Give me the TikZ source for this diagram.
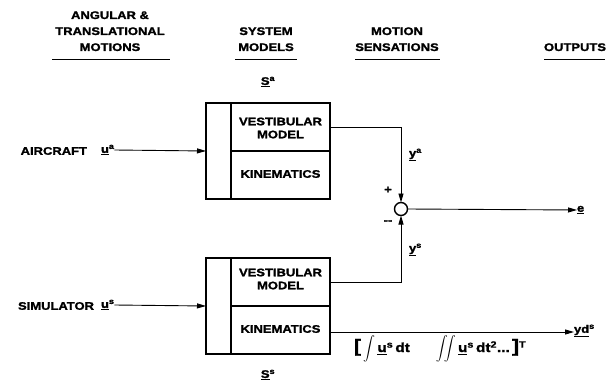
\documentclass[tikz,border=0pt]{standalone}
\usepackage{amsmath}
\usepackage{fontspec}
\setmainfont{Liberation Sans}
\newfontfamily\lett[FakeStretch=1.18,FakeBold=1.6]{Liberation Sans}
\usetikzlibrary{arrows.meta}
\newcommand{\ul}[1]{\underline{#1}}
\begin{document}
\begin{tikzpicture}[x=1pt,y=-1pt,
  every node/.style={inner sep=0pt,outer sep=0pt,font=\lett\bfseries\fontsize{11}{13}\selectfont},
  hdr/.style={align=center,font=\lett\bfseries\fontsize{11}{16}\selectfont},
  hline/.style={line width=1pt},
  blk/.style={draw,line width=1.8pt,minimum width=124pt,minimum height=96pt},
  inner/.style={line width=1.3pt},
  conn/.style={line width=0.9pt},
  arr/.style={conn,-{Triangle[length=9pt,width=5pt]}},
  sumnode/.style={draw,circle,line width=1.4pt,minimum size=13pt}]
\useasboundingbox (0,0) rectangle (609,387);

% headers
\node[hdr,anchor=base] (h1) at (110,51) {ANGULAR \&\\TRANSLATIONAL\\MOTIONS};
\node[hdr,anchor=base] (h2) at (266,51) {SYSTEM\\MODELS};
\node[hdr,anchor=base] (h3) at (397,51) {MOTION\\SENSATIONS};
\node[hdr,anchor=base] (h4) at (575,51) {OUTPUTS};
\draw[hline] (52,60) -- (170,60);
\draw[hline] (235,60) -- (297,60);
\draw[hline] (355,60) -- (440,60);
\draw[hline] (544,60) -- (605,60);

% upper block
\node[blk] (ba) at (268,151) {};
\draw[inner] (231,103) -- (231,199);
\draw[inner] (231,151) -- (330,151);
\node[align=center] (vma) at (280.5,128) {VESTIBULAR\\MODEL};
\node (kia) at (280.5,174) {KINEMATICS};
\node (sa) at (268,82) {\ul{S}\textsuperscript{a}};

% lower block
\node[blk] (bs) at (268,306) {};
\draw[inner] (231,258) -- (231,354);
\draw[inner] (231,306) -- (330,306);
\node[align=center] (vms) at (280.5,279) {VESTIBULAR\\MODEL};
\node (kis) at (280.5,329) {KINEMATICS};
\node (ss) at (268,375) {\ul{S}\textsuperscript{s}};

% inputs
\node[anchor=east] (air) at (87,151) {AIRCRAFT};
\node[anchor=west] (ua) at (101,150) {\ul{u}\textsuperscript{a}};
\node[anchor=east] (sim) at (94,306) {SIMULATOR};
\node[anchor=west] (us) at (101,305) {\ul{u}\textsuperscript{s}};
\draw[arr] (ua.east) -- (ba.west);
\draw[arr] (us.east) -- (bs.west);

% summing junction
\node[sumnode] (sum) at (401,209) {};
\coordinate (va) at (330,127);
\coordinate (vs) at (330,282);
\draw[arr] (va) -| (sum.north);
\draw[arr] (vs) -| (sum.south);
\node[anchor=west] (ya) at (409,155) {\ul{y}\textsuperscript{a}};
\node[anchor=west] (ys) at (409,250) {\ul{y}\textsuperscript{s}};
\node (plus) at (388,190) {+};
\node (minus) at (388,222) {--};

% outputs
\node[anchor=west] (e) at (577,210) {\ul{e}};
\draw[arr] (sum.east) -- (e.west);
\coordinate (ks) at (330,332);
\node[anchor=west] (yd) at (574,331) {\ul{yd}\textsuperscript{s}};
\draw[arr] (ks) -- (yd.west |- ks);
\node[anchor=west,font=\lett\bfseries\fontsize{13}{15}\selectfont] (int) at (354,349) {{\fontsize{18}{18}\selectfont[}\,$\displaystyle\int$\,\ul{u}\textsuperscript{s}\,dt\qquad$\displaystyle\iint$\,\ul{u}\textsuperscript{s}\,dt\textsuperscript{2}...\,{\fontsize{18}{18}\selectfont]}\textsuperscript{T}};
\end{tikzpicture}
\end{document}
